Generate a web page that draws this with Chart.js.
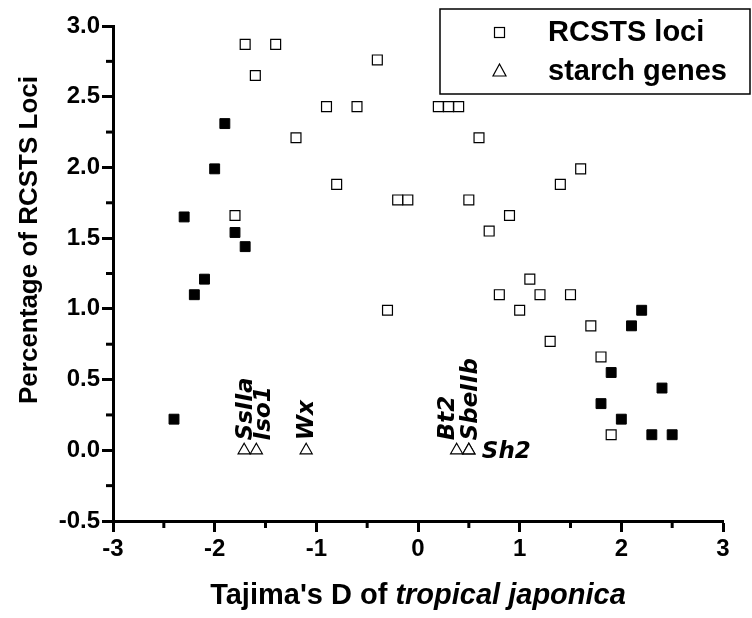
<!DOCTYPE html>
<html lang="en">
<head>
  <meta charset="UTF-8">
  <title>Tajima's D scatter</title>
  <style>
    body {
      margin: 0;
      padding: 0;
      background-color: white;
    }
    #chart {
      display: block;
    }
  </style>
</head>
<body>
  <canvas id="chart" width="752" height="618"></canvas>

  <script src="https://cdn.jsdelivr.net/npm/chart.js"></script>
  <script>
    // RCSTS loci (open squares)
    const rcstsX = [-1.7, -1.4, -0.4, -1.6, -0.9, -0.6, 0.2, 0.3, 0.4, -1.2, 0.6, -0.8, 1.4, 1.6, -0.2, -0.1, 0.5,
                    -1.8, 0.9, 0.7, 1.1, 0.8, 1.2, 1.5, -0.3, 1.0, 1.7, 1.3, 1.8, 1.9];
    const rcstsY = [2.87, 2.87, 2.76, 2.65, 2.43, 2.43, 2.43, 2.43, 2.43, 2.21, 2.21, 1.88, 1.88, 1.99, 1.77, 1.77, 1.77,
                    1.66, 1.66, 1.55, 1.21, 1.10, 1.10, 1.10, 0.99, 0.99, 0.88, 0.77, 0.66, 0.11];

    // loci in the tails (filled squares, not in the legend)
    const tailX = [-1.9, -2.0, -2.3, -1.8, -1.7, -2.1, -2.2, -2.4, 2.2, 2.1, 1.9, 2.4, 1.8, 2.0, 2.3, 2.5];
    const tailY = [2.31, 1.99, 1.65, 1.54, 1.44, 1.21, 1.10, 0.22, 0.99, 0.88, 0.55, 0.44, 0.33, 0.22, 0.11, 0.11];

    // starch genes (triangles)
    const starchNames = ['SsIIa', 'Iso1', 'Wx', 'Bt2', 'SbeIIb', 'Sh2'];
    const starchX = [-1.71, -1.59, -1.1, 0.38, 0.5, 0.5];
    const starchY = [0, 0, 0, 0, 0, 0];

    const xTicks = [-3, -2, -1, 0, 1, 2, 3];
    const yTicks = [-0.5, 0.0, 0.5, 1.0, 1.5, 2.0, 2.5, 3.0];

    const toPoints = (xs, ys) => xs.map((x, i) => ({ x: x, y: ys[i] }));

    const sansFont = "'Liberation Sans', Arial, sans-serif";
    const geneFont = "italic bold 23px 'DejaVu Sans', sans-serif";

    // where each gene name sits relative to its triangle
    const geneOffsets = {
      SsIIa: 8, Iso1: 14, Wx: 7, Bt2: -3, SbeIIb: 8,
    };

    // minor ticks between the labelled ones
    const minorTicks = {
      id: 'minorTicks',
      afterDraw(chart) {
        const ctx = chart.ctx;
        const xs = chart.scales.x, ys = chart.scales.y;
        const area = chart.chartArea;
        ctx.save();
        ctx.strokeStyle = 'black';
        ctx.lineWidth = 3;
        for (let v = -2.5; v < 3; v += 1) {
          const px = xs.getPixelForValue(v);
          ctx.beginPath();
          ctx.moveTo(px, area.bottom);
          ctx.lineTo(px, area.bottom + 7);
          ctx.stroke();
        }
        for (let v = -0.25; v < 3; v += 0.5) {
          const py = ys.getPixelForValue(v);
          ctx.beginPath();
          ctx.moveTo(area.left, py);
          ctx.lineTo(area.left - 7, py);
          ctx.stroke();
        }
        ctx.restore();
      }
    };

    // gene names next to the triangles
    const geneLabels = {
      id: 'geneLabels',
      afterDatasetsDraw(chart) {
        const ctx = chart.ctx;
        const meta = chart.getDatasetMeta(2);
        ctx.save();
        ctx.fillStyle = 'black';
        ctx.font = geneFont;
        starchNames.forEach((name, i) => {
          const pt = meta.data[i];
          if (name === 'Sh2') {
            ctx.textAlign = 'left';
            ctx.textBaseline = 'alphabetic';
            ctx.fillText(name, pt.x + 13, pt.y + 8);
            return;
          }
          ctx.save();
          ctx.translate(pt.x + geneOffsets[name], pt.y - 10);
          ctx.rotate(-Math.PI / 2);
          ctx.textAlign = 'left';
          ctx.textBaseline = 'alphabetic';
          ctx.fillText(name, 0, 0);
          ctx.restore();
        });
        ctx.restore();
      }
    };

    // axis titles and the boxed legend
    const decorations = {
      id: 'decorations',
      afterDraw(chart) {
        const ctx = chart.ctx;
        const area = chart.chartArea;
        ctx.save();
        ctx.fillStyle = 'black';

        // y title
        ctx.save();
        ctx.translate(30, 240);
        ctx.rotate(-Math.PI / 2);
        ctx.font = 'bold 26px ' + sansFont;
        ctx.textAlign = 'center';
        ctx.textBaseline = 'middle';
        ctx.fillText('Percentage of RCSTS Loci', 0, 0);
        ctx.restore();

        // x title, part of it in italics
        const part1 = "Tajima's D of ";
        const part2 = 'tropical japonica';
        const f1 = 'bold 29px ' + sansFont;
        const f2 = 'italic bold 29px ' + sansFont;
        ctx.font = f1;
        const w1 = ctx.measureText(part1).width;
        ctx.font = f2;
        const w2 = ctx.measureText(part2).width;
        const cx = (area.left + area.right) / 2;
        let x0 = cx - (w1 + w2) / 2;
        ctx.textBaseline = 'alphabetic';
        ctx.textAlign = 'left';
        ctx.font = f1;
        ctx.fillText(part1, x0, 604);
        ctx.font = f2;
        ctx.fillText(part2, x0 + w1, 604);

        // legend box
        ctx.strokeStyle = 'black';
        ctx.lineWidth = 1.5;
        ctx.fillStyle = 'white';
        ctx.fillRect(440, 9, 310, 85);
        ctx.strokeRect(440, 9, 310, 85);

        ctx.lineWidth = 1.2;
        ctx.strokeRect(494.5, 27.5, 10, 10);
        ctx.beginPath();
        ctx.moveTo(499.5, 64);
        ctx.lineTo(506, 76);
        ctx.lineTo(493, 76);
        ctx.closePath();
        ctx.stroke();

        ctx.fillStyle = 'black';
        ctx.font = 'bold 29px ' + sansFont;
        ctx.textBaseline = 'middle';
        ctx.fillText('RCSTS loci', 548, 33);
        ctx.fillText('starch genes', 548, 72);
        ctx.restore();
      }
    };

    const ctx = document.getElementById('chart').getContext('2d');
    const chart = new Chart(ctx, {
      type: 'scatter',
      data: {
        datasets: [
          {
            label: 'RCSTS loci',
            data: toPoints(rcstsX, rcstsY),
            pointStyle: 'rect',
            pointRadius: 7,
            borderWidth: 1.2,
            borderColor: 'black',
            backgroundColor: 'white',
          },
          {
            label: 'tail loci',
            data: toPoints(tailX, tailY),
            pointStyle: 'rect',
            pointRadius: 7,
            borderWidth: 1,
            borderColor: 'black',
            backgroundColor: 'black',
          },
          {
            label: 'starch genes',
            data: toPoints(starchX, starchY),
            pointStyle: 'triangle',
            pointRadius: 7,
            borderWidth: 1.2,
            borderColor: 'black',
            backgroundColor: 'white',
          },
        ],
      },
      options: {
        responsive: false,
        animation: false,
        devicePixelRatio: 1,
        layout: {
          padding: { top: 26, right: 29, left: 0, bottom: 0 },
        },
        plugins: {
          legend: { display: false },
          tooltip: { enabled: false },
        },
        elements: {
          point: { hoverRadius: 7 },
        },
        scales: {
          x: {
            type: 'linear',
            min: -3,
            max: 3,
            afterBuildTicks: (scale) => {
              scale.ticks = xTicks.map(v => ({ value: v }));
            },
            afterFit: (scale) => { scale.height = 97; },
            ticks: {
              color: 'black',
              font: { family: sansFont, size: 24, weight: 'bold' },
              padding: 3,
              maxRotation: 0,
            },
            grid: {
              drawOnChartArea: false,
              tickLength: 11,
              tickWidth: 3,
              tickColor: 'black',
            },
            border: { color: 'black', width: 3 },
          },
          y: {
            type: 'linear',
            min: -0.5,
            max: 3,
            afterBuildTicks: (scale) => {
              scale.ticks = yTicks.map(v => ({ value: v }));
            },
            afterFit: (scale) => { scale.width = 113; },
            ticks: {
              color: 'black',
              font: { family: sansFont, size: 24, weight: 'bold' },
              padding: 2,
              callback: (v) => Number(v).toFixed(1),
            },
            grid: {
              drawOnChartArea: false,
              tickLength: 11,
              tickWidth: 3,
              tickColor: 'black',
            },
            border: { color: 'black', width: 3 },
          },
        },
      },
      plugins: [minorTicks, geneLabels, decorations],
    });
  </script>
</body>
</html>
